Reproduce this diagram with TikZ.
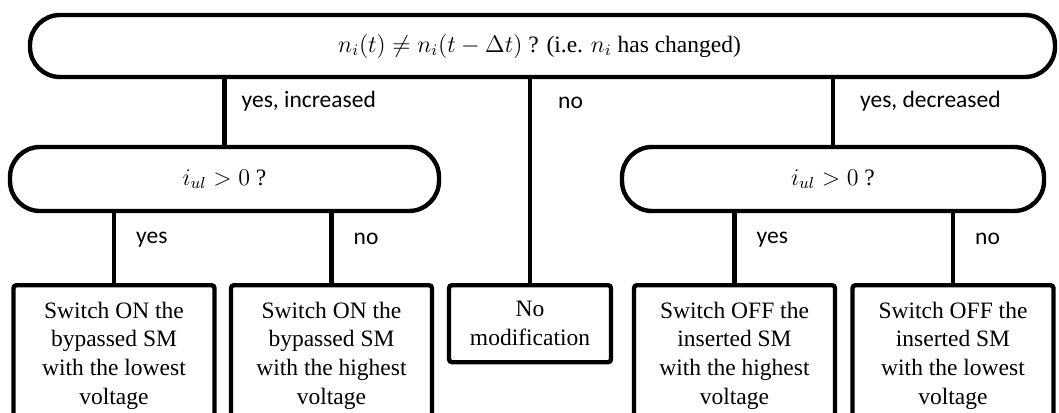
\documentclass[tikz,border=0pt]{standalone}
\usepackage{fontspec}
\setmainfont{Liberation Serif}
\newfontfamily\labelfont{Carlito}
\usepackage{tikz}
\usetikzlibrary{positioning, calc}

\begin{document}
\begin{tikzpicture}[
    x=0.5pt, y=-0.5pt,
    line width=2.2pt,
    decision/.style={rectangle, draw, rounded corners=15pt, minimum height=31pt, inner sep=0pt, align=center, font=\fontsize{11.75pt}{14.35pt}\selectfont},
    action/.style={rectangle, draw, rounded corners=1.5pt, anchor=north, minimum width=100.5pt, minimum height=70.5pt, inner sep=0pt, align=center, font=\fontsize{11.75pt}{14.35pt}\selectfont},
    lbl/.style={font=\labelfont\fontsize{11.75pt}{14.35pt}\selectfont, inner sep=0pt}
]

\useasboundingbox (0,0) rectangle (1059,412);

% LEVEL 1: HAS n_i CHANGED
\node[decision, minimum width=512.5pt] (top) at (542.5,46) {
    $n_i(t) \neq n_i(t-\Delta t)$ ? (i.e. $n_i$ has changed)
};

% LEVEL 2: SIGN OF THE CURRENT
\node[decision, minimum width=214.5pt, minimum height=32pt] (decL) at (224.5,179) {$i_{ul} > 0$ ?};
\node[decision, minimum width=211pt, minimum height=32pt] (decR) at (833,179) {$i_{ul} > 0$ ?};

% LEVEL 3: ACTIONS
\node[action] (onLow) at (114,283) {
    Switch ON the \\ bypassed SM \\ with the lowest \\ voltage
};
\node[action] (onHigh) at (331.5,283) {
    Switch ON the \\ bypassed SM \\ with the highest \\ voltage
};
\node[action, minimum width=81pt, minimum height=38.5pt] (noMod) at (530,283) {
    No \\ modification
};
\node[action] (offHigh) at (734.5,283) {
    Switch OFF the \\ inserted SM \\ with the highest \\ voltage
};
\node[action] (offLow) at (953,283) {
    Switch OFF the \\ inserted SM \\ with the lowest \\ voltage
};

% Connections
\draw (top.south -| decL) -- node[lbl, pos=0.34, right=7.5pt] {yes, increased} (decL.north);
\draw (top.south -| noMod) -- node[lbl, pos=0.117, right=13pt] {no} (noMod.north);
\draw (top.south -| decR) -- node[lbl, pos=0.34, right=12.5pt] {yes, decreased} (decR.north);

\draw (decL.south -| onLow) -- node[lbl, pos=0.375, right=10pt] {yes} (onLow.north);
\draw (decL.south -| onHigh) -- node[lbl, pos=0.375, right=10pt] {no} (onHigh.north);
\draw (decR.south -| offHigh) -- node[lbl, pos=0.375, right=10pt] {yes} (offHigh.north);
\draw (decR.south -| offLow) -- node[lbl, pos=0.375, right=10pt] {no} (offLow.north);

\end{tikzpicture}
\end{document}
